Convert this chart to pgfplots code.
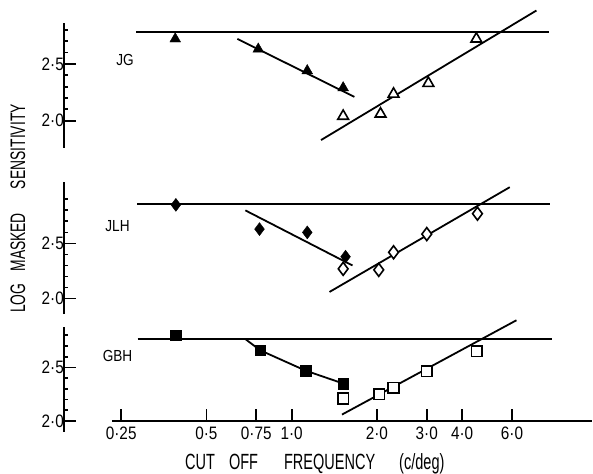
\documentclass[border=0pt]{standalone}
\usepackage{fontspec}
\setmainfont{Liberation Sans}
\newfontfamily\condfont[FakeStretch=0.66]{Liberation Sans}
\newfontfamily\tickfont[FakeStretch=0.85]{Liberation Sans}
\usepackage{pgfplots}
\pgfplotsset{compat=1.18}

\pgfplotsset{
  every axis/.append style={
    scale only axis, width=528pt,
    xmin=0.157, xmax=11.5,
    axis y line*=left,
    axis line style={line width=2pt},
    ytick={2.0,2.5}, yticklabels={2·0,2·5},
    minor ytick={2.1,2.2,2.3,2.4,2.6,2.7,2.8,2.9},
    tick align=inside, major tick length=12pt, minor tick length=4.5pt,
    tick style={line width=1.8pt, black},
    ticklabel style={font=\tickfont\fontsize{18pt}{18pt}\selectfont, inner sep=0pt},
    clip=false,
  },
}

\begin{document}
\begin{tikzpicture}
\useasboundingbox (0pt,0pt) rectangle (593pt,-473pt);

% ---- JG ----
\begin{semilogxaxis}[at={(64pt,-23pt)}, anchor=north west,
             axis x line=none,
             height=125pt, ymin=1.76, ymax=2.86]
  \addplot[black, line width=2pt, no marks] coordinates {(0.283,2.78) (8.13,2.78)};
  \addplot[black, line width=1.8pt, no marks] coordinates {(0.643,2.72) (1.665,2.21)};
  \addplot[black, line width=1.8pt, no marks] coordinates {(1.27,1.83) (7.32,2.97)};
  \addplot[only marks, black, mark=triangle*, mark size=6.2pt]
    coordinates {(0.388,2.72) (0.762,2.63) (1.135,2.44) (1.52,2.29)};
  \addplot[only marks, black, mark=triangle*, mark size=6.2pt, mark options={line width=1.6pt, fill=white}]
    coordinates {(1.52,2.04) (2.06,2.06) (2.29,2.235) (3.04,2.33) (4.49,2.72)};
\end{semilogxaxis}

% ---- JLH ----
\begin{semilogxaxis}[at={(64pt,-181.7pt)}, anchor=north west,
             axis x line=none,
             height=132.3pt, ymin=1.86, ymax=3.06]
  \addplot[black, line width=2pt, no marks] coordinates {(0.285,2.855) (8.2,2.855)};
  \addplot[black, line width=1.8pt, no marks] coordinates {(0.686,2.80) (1.64,2.30)};
  \addplot[black, line width=1.8pt, no marks] coordinates {(1.36,2.06) (5.89,3.01)};
  \addplot[only marks, black, mark=diamond*, mark size=6.5pt]
    coordinates {(0.39,2.85) (0.77,2.63) (1.135,2.60) (1.55,2.38)};
  \addplot[only marks, black, mark=diamond*, mark size=6.5pt, mark options={line width=1.6pt, fill=white}]
    coordinates {(1.52,2.27) (2.03,2.26) (2.29,2.42) (3.0,2.585) (4.53,2.77)};
\end{semilogxaxis}

% ---- GBH ----
\begin{semilogxaxis}[at={(64pt,-326.7pt)}, anchor=north west,
             height=94.3pt, ymin=2.0, ymax=2.88,
             axis x line*=bottom,
             x axis line style={shorten <=48pt},
             y axis line style={shorten <=-10.7pt},
             xtick={0.25,0.5,0.75,1,2,3,4,6},
             xticklabels={0·25,0·5,0·75,1·0,2·0,3·0,4·0,6·0},
             xticklabel style={yshift=-6pt}]
  \addplot[black, line width=2pt, no marks] coordinates {(0.286,2.765) (8.3,2.765)};
  \addplot[black, line width=1.8pt, no marks] coordinates {(0.686,2.765) (0.774,2.66) (1.12,2.47) (1.52,2.35)};
  \addplot[black, line width=1.8pt, no marks] coordinates {(1.505,2.06) (6.22,2.94)};
  \addplot[only marks, black, mark=square*, mark size=5.3pt]
    coordinates {(0.39,2.80) (0.774,2.66) (1.12,2.47) (1.52,2.35)};
  \addplot[only marks, black, mark=square*, mark size=5.3pt, mark options={line width=1.6pt, fill=white}]
    coordinates {(1.52,2.21) (2.04,2.25) (2.29,2.31) (3.0,2.465) (4.5,2.65)};
\end{semilogxaxis}

% labels
\begin{scope}[every node/.style={inner sep=0pt, font=\tickfont\fontsize{16pt}{16pt}\selectfont}]
  \node at (125pt,-60pt) {JG};
  \node at (117.5pt,-226.5pt) {JLH};
  \node at (117.5pt,-356pt) {GBH};
\end{scope}
\node[inner sep=0pt, anchor=base west, rotate=90,
      font=\condfont\fontsize{21pt}{21pt}\selectfont]
  at (25pt,-313pt) {LOG\hspace{12pt}MASKED\hspace{24pt}SENSITIVITY};
\node[inner sep=0pt, anchor=base west,
      font=\condfont\fontsize{22pt}{22pt}\selectfont]
  at (185pt,-469pt) {CUT\hspace{14pt}OFF\hspace{26pt}FREQUENCY\hspace{24pt}(c/deg)};
\end{tikzpicture}
\end{document}
